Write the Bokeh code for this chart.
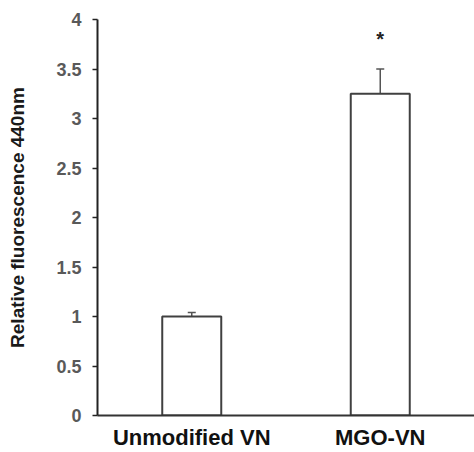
from bokeh.plotting import figure
from bokeh.models import FactorRange, Range1d, ColumnDataSource, Whisker, TeeHead, FixedTicker
from bokeh.core.properties import value
from bokeh.embed import file_html
from bokeh.resources import INLINE

categories = ["Unmodified VN", "MGO-VN"]
means = [1.0, 3.25]
errors = [0.04, 0.25]
sig_marks = ["", "*"]
sig_y = [None, 3.8]
y_ticks = [0, 0.5, 1, 1.5, 2, 2.5, 3, 3.5, 4]
y_tick_labels = ["0", "0.5", "1", "1.5", "2", "2.5", "3", "3.5", "4"]

upper = [m + e for m, e in zip(means, errors)]
src = ColumnDataSource(dict(cat=categories, mean=means, upper=upper))

p = figure(x_range=FactorRange(*categories, range_padding=0),
           y_range=Range1d(0, 4),
           width=474, height=452, output_backend="svg", toolbar_location=None,
           min_border_left=97, min_border_right=0, min_border_top=19, min_border_bottom=35)
p.outline_line_color = None
p.grid.grid_line_color = None

p.vbar(x="cat", top="mean", width=0.313, source=src, fill_color="white",
       line_color="#404040", line_width=2)

w = Whisker(base="cat", upper="upper", lower="mean", source=src,
            line_color="#555555", line_width=1.5,
            upper_head=TeeHead(size=8, line_color="#555555", line_width=1.5),
            lower_head=None)
p.add_layout(w)

star_src = ColumnDataSource(dict(x=[c for c, s in zip(categories, sig_marks) if s],
                                 y=[yv for yv, s in zip(sig_y, sig_marks) if s],
                                 t=[s for s in sig_marks if s]))
p.text(x="x", y="y", text="t", source=star_src, text_align="center",
       text_baseline="middle", text_font=value("Liberation Sans"),
       text_font_size="20px", text_font_style="bold", text_color="#222222")

ya = p.yaxis[0]
ya.ticker = FixedTicker(ticks=y_ticks)
ya.major_label_overrides = {t: l for t, l in zip(y_ticks, y_tick_labels)}
ya.minor_tick_line_color = None
ya.major_tick_in = 0
ya.major_tick_out = 5
ya.major_tick_line_color = "#222222"
ya.major_tick_line_width = 1.5
ya.axis_line_color = "#222222"
ya.axis_line_width = 2
ya.major_label_text_font = "Liberation Sans"
ya.major_label_text_font_style = "bold"
ya.major_label_text_font_size = "18px"
ya.major_label_text_color = "#595959"
ya.major_label_standoff = 11
ya.axis_label = "Relative fluorescence 440nm"
ya.axis_label_text_font = "Liberation Sans"
ya.axis_label_text_font_style = "bold"
ya.axis_label_text_font_size = "19px"
ya.axis_label_text_color = "#1a1a1a"
ya.axis_label_standoff = 25

xa = p.xaxis[0]
xa.major_tick_line_color = None
xa.minor_tick_line_color = None
xa.axis_line_color = "#333333"
xa.axis_line_width = 2
xa.major_label_text_font = "Liberation Sans"
xa.major_label_text_font_style = "bold"
xa.major_label_text_font_size = "22px"
xa.major_label_text_color = "#111111"
xa.major_label_standoff = 3

open("out.html", "w").write(file_html(p, INLINE))
